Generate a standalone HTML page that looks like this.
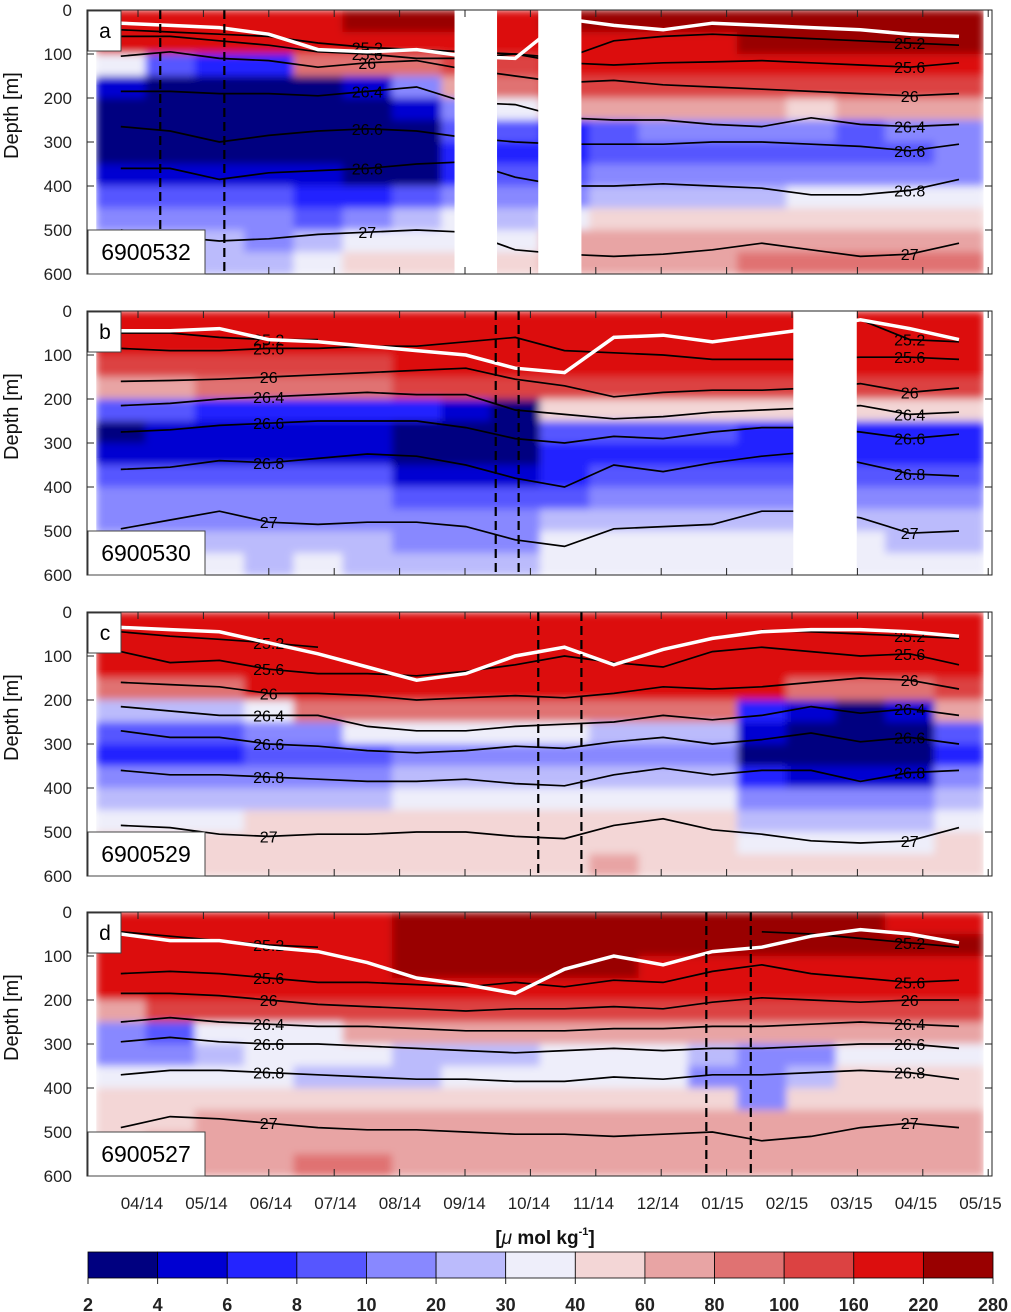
<!DOCTYPE html>
<html><head><meta charset="utf-8">
<style>
body{margin:0;background:#fff;}
svg{display:block;font-family:"Liberation Sans",sans-serif;}
</style></head>
<body>
<svg id="fig" width="1011" height="1312" viewBox="0 0 1011 1312" xmlns="http://www.w3.org/2000/svg">
<defs><filter id="soft" x="0" y="0" width="1" height="1"><feGaussianBlur stdDeviation="4" edgeMode="duplicate"/></filter></defs>
</svg>
<script>
// ---------- data ----------
const monthLabels=["04/14","05/14","06/14","07/14","08/14","09/14","10/14","11/14","12/14","01/15","02/15","03/15","04/15","05/15"];
const depthTicks=[0,100,200,300,400,500,600];
const cbLabels=["2","4","6","8","10","20","30","40","60","80","100","160","220","280"];
const palette=["#000080","#0000d2","#2424ff","#5656ff","#8888ff","#bbbbfc","#eeeefa","#f3d6d6","#e8a4a4","#e07272","#dc4242","#dc0e0e","#990000"];
const densLevels=["25.2","25.6","26","26.4","26.6","26.8","27"];
const panelLetters=["a","b","c","d"];
const floatIds=["6900532","6900530","6900529","6900527"];
const tStart=-0.64, tEnd=12.93;
const gridA=[
[11,11,11,11,11,12,12,12,11,12,12,12,12,12,12,12,12,12],
[11,11,11,11,11,11,11,11,11,11,11,11,11,12,12,12,12,12],
[6,3,2,2,9,9,9,10,10,11,11,11,11,11,11,11,11,11],
[1,0,0,0,0,1,4,8,9,10,10,10,10,10,10,10,10,10],
[0,0,0,0,0,0,1,4,6,8,8,8,8,8,7,8,8,8],
[0,0,0,0,0,0,0,3,3,2,3,4,4,4,4,3,4,4],
[0,0,0,0,0,0,0,2,2,2,3,3,3,3,3,3,3,4],
[1,1,1,1,1,0,0,2,3,3,4,4,4,4,4,4,4,4],
[3,3,3,3,2,2,3,4,4,4,5,5,5,5,6,6,6,6],
[4,4,4,4,3,4,5,6,5,6,7,7,7,7,7,7,7,7],
[5,5,5,4,5,6,6,6,6,8,8,8,8,8,8,8,8,8],
[5,5,5,5,6,7,7,7,7,8,8,8,8,9,9,9,9,9]];
const gridB=[
[11,11,11,11,11,11,11,11,11,11,11,11,11,11,11,11,11,11],
[11,11,11,11,11,11,11,11,11,11,11,11,11,11,11,11,11,11],
[10,10,10,10,10,10,11,11,11,11,11,11,11,11,11,11,11,11],
[8,8,9,9,9,9,10,10,10,10,10,10,10,10,10,10,10,10],
[3,3,2,2,2,2,2,1,0,7,7,7,7,7,7,7,7,7],
[0,1,1,1,1,1,0,0,0,3,3,3,3,2,2,2,2,2],
[1,1,1,1,1,1,0,0,0,2,2,2,2,2,2,2,2,2],
[3,3,3,3,3,3,1,1,1,2,3,3,3,3,3,3,3,3],
[4,4,4,4,4,4,3,3,3,3,4,4,4,4,4,4,4,4],
[4,4,4,4,4,4,4,4,4,5,5,5,5,5,5,5,5,5],
[5,5,5,5,5,5,4,4,4,6,6,6,6,6,6,6,5,5],
[5,5,6,5,6,5,5,5,5,6,6,6,6,6,6,6,6,6]];
const gridC=[
[11,11,11,11,11,11,11,11,11,11,11,11,11,11,11,11,11,11],
[11,11,11,11,11,11,11,11,11,11,11,11,11,11,11,11,11,11],
[11,11,11,11,11,11,11,11,11,11,11,11,11,11,11,11,11,11],
[9,9,9,11,11,11,11,11,11,11,11,11,11,11,9,9,9,10],
[5,5,5,6,9,9,9,9,9,9,9,9,9,2,1,0,1,8],
[3,3,3,4,4,6,6,6,6,6,5,5,5,1,0,0,0,3],
[2,2,2,3,3,3,4,4,4,4,4,4,4,0,0,0,0,2],
[4,4,4,4,4,4,5,5,5,5,5,5,5,2,1,1,1,4],
[5,5,5,5,5,5,6,6,6,6,6,6,6,4,4,4,4,5],
[6,6,6,7,7,7,7,7,7,7,7,7,7,5,5,5,5,6],
[7,7,7,7,7,7,7,7,7,7,7,7,7,6,6,6,6,7],
[7,7,7,7,7,7,7,7,7,7,8,7,7,7,7,7,7,7]];
const gridD=[
[11,11,11,11,11,11,12,12,12,12,12,12,12,12,12,12,11,11],
[11,11,11,11,11,11,12,12,12,12,12,12,12,12,12,12,12,12],
[11,11,11,11,11,11,12,12,12,12,12,11,11,11,11,11,11,11],
[11,11,11,11,11,11,11,11,11,11,11,11,11,11,11,11,11,11],
[8,10,10,10,10,10,10,10,10,10,10,10,10,10,10,10,10,10],
[4,3,6,6,6,8,8,8,8,8,8,8,8,8,8,8,8,8],
[4,4,5,6,6,6,5,5,5,6,6,6,5,4,4,6,6,6],
[6,6,6,6,5,5,5,6,6,6,6,6,4,4,5,7,7,7],
[7,7,7,7,7,7,7,7,7,7,7,7,7,4,7,7,7,7],
[7,7,8,8,8,8,8,8,8,8,8,8,8,8,8,8,8,8],
[7,8,8,8,8,8,8,8,8,8,8,8,8,8,8,8,8,8],
[8,8,8,8,9,9,8,8,8,8,8,8,8,8,8,8,8,8]];
const densA=[
[45,50,55,60,75,85,90,95,100,110,70,60,55,60,65,70,75,80],
[60,60,70,80,95,100,110,110,100,120,125,120,118,115,120,125,130,120],
[105,95,110,115,130,120,115,135,150,165,160,170,175,180,185,190,195,190],
[185,185,190,190,195,185,175,210,215,245,250,250,260,265,245,260,265,260],
[265,275,300,285,275,270,275,290,300,305,305,305,300,300,305,310,320,305],
[360,360,385,370,365,360,350,345,380,400,400,395,400,405,420,420,410,385],
[500,515,525,520,510,505,500,505,545,555,560,555,545,530,545,560,555,530]];
const densB=[
[50,50,60,65,65,null,null,null,null,null,null,null,null,null,30,20,65,70],
[85,90,90,85,85,80,80,70,60,90,95,100,110,110,110,105,105,110],
[160,158,155,150,145,140,135,130,155,170,195,185,180,180,175,165,185,175],
[215,210,200,195,190,185,190,190,225,235,245,240,230,225,220,215,235,230],
[275,270,260,255,250,250,250,265,290,300,285,290,275,265,265,275,290,280],
[360,355,340,345,335,325,330,350,380,400,350,365,345,330,320,345,370,375],
[495,475,455,480,485,480,480,490,520,535,495,490,485,455,455,470,505,500]];
const densC=[
[45,55,62,70,80,null,null,null,null,null,null,null,null,42,45,50,55,60],
[90,115,110,130,140,140,145,135,120,100,115,125,90,80,90,100,95,120],
[160,165,170,185,185,190,200,195,190,195,185,170,175,170,160,150,155,175],
[215,225,235,235,235,260,270,270,260,255,250,235,245,235,215,230,220,235],
[270,285,285,300,305,315,320,315,305,310,295,285,300,290,275,295,285,300],
[360,370,370,375,380,385,385,380,390,395,370,355,370,360,360,385,365,360],
[485,490,505,510,505,505,500,500,510,515,485,470,495,505,520,525,520,490]];
const densD=[
[45,55,65,75,80,null,null,null,null,null,null,null,null,45,50,60,70,80],
[140,135,140,150,160,160,165,170,160,170,155,160,135,120,140,150,160,155],
[185,185,190,200,210,215,220,225,220,220,215,220,205,195,200,205,200,200],
[250,240,250,255,260,260,265,270,270,270,265,265,260,260,255,250,255,260],
[295,285,295,300,300,305,310,315,320,315,310,315,310,310,305,300,300,310],
[370,360,360,365,370,375,380,380,385,385,375,380,370,370,365,360,365,380],
[490,465,470,480,490,495,495,500,505,505,510,505,500,520,510,490,480,490]];
const mldA=[30,35,40,55,90,95,90,105,110,20,35,45,30,35,40,45,55,60];
const mldB=[45,45,40,65,70,80,90,100,130,140,60,55,70,55,40,20,40,65];
const mldC=[35,40,45,70,95,125,155,140,100,80,120,85,60,45,40,40,45,55];
const mldD=[50,65,65,80,90,115,150,165,185,130,100,120,90,80,55,40,50,70];
const gapsA=[[4.84,5.49],[6.12,6.78]];
const gapsB=[[10.02,10.99]];
const gapsC=[];
const gapsD=[];
const dashA=[0.34,1.32];
const dashB=[5.47,5.82];
const dashC=[6.12,6.78];
const dashD=[8.69,9.37];
// ---------- drawing ----------
const NS="http://www.w3.org/2000/svg";
const svg=document.getElementById('fig');
function mk(tag,attrs,parent){const e=document.createElementNS(NS,tag);for(const k in attrs)e.setAttribute(k,attrs[k]);(parent||svg).appendChild(e);return e;}
const AX_L=87, AX_R=992;
const X0=138, XM=65.4;
function xOf(m){return X0+XM*m;}
const panelTops=[10,311,612,912];
const PH=264;
const grids=[gridA,gridB,gridC,gridD];
const dens=[densA,densB,densC,densD];
const mlds=[mldA,mldB,mldC,mldD];
const gaps=[gapsA,gapsB,gapsC,gapsD];
const dashes=[dashA,dashB,dashC,dashD];
const labelCol=[5,3,3,3];
const NC=18;
function colT(i){return tStart+(tEnd-tStart)*i/NC;}
function colCenterT(i){return tStart+(tEnd-tStart)*(i+0.5)/NC;}
const defs=svg.querySelector('defs');

for(let p=0;p<4;p++){
  const top=panelTops[p];
  const yOf=d=>top+d/600*PH;
  const g=mk('g',{});
  
  
  const cp=mk('clipPath',{id:'clip'+p},defs);
  mk('rect',{x:xOf(tStart),y:top,width:xOf(tEnd)-xOf(tStart),height:PH},cp);
  const outer=mk('g',{'clip-path':'url(#clip'+p+')'},g);
  const cells=mk('g',{filter:'url(#soft)'},outer);
  const grid=grids[p];
  for(let r=0;r<grid.length;r++){
    for(let c=0;c<NC;c++){
      const x1=xOf(colT(c)), x2=xOf(colT(c+1));
      const rc=mk('rect',{x:x1.toFixed(1),y:yOf(r*50).toFixed(1),width:(x2-x1+0.6).toFixed(1),height:(PH/12+0.6).toFixed(1),fill:palette[grid[r][c]]},cells);
      
      
    }
  }
  dens[p].forEach((lev,li)=>{
    let d='',pen=false;
    lev.forEach((v,c)=>{
      if(v===null){pen=false;return;}
      d+=(pen?'L':'M')+xOf(colCenterT(c)).toFixed(1)+','+yOf(v).toFixed(1);
      pen=true;
    });
    const pl=mk('path',{d:d,fill:'none',stroke:'#000','stroke-width':1.7},g);
    
    
    [labelCol[p],16].forEach(c=>{
      const v=lev[c]; if(v===null) return;
      const t=mk('text',{x:xOf(colCenterT(c)).toFixed(1),y:(yOf(v)+6).toFixed(1),'font-size':16,'text-anchor':'middle',fill:'#000'},g);
      t.textContent=densLevels[li];
      
      
    });
  });
  let md='';
  mlds[p].forEach((v,c)=>{md+=(c?'L':'M')+xOf(colCenterT(c)).toFixed(1)+','+yOf(v).toFixed(1);});
  const ml=mk('path',{d:md,fill:'none',stroke:'#fff','stroke-width':3.5},g);
  
  
  const ls=mk('rect',{x:AX_L,y:top,width:xOf(tStart)-AX_L,height:PH,fill:'#fff'},g);
  
  
  const rs=mk('rect',{x:xOf(tEnd),y:top,width:AX_R-xOf(tEnd),height:PH,fill:'#fff'},g);
  
  
  gaps[p].forEach(gp=>{
    const gr=mk('rect',{x:xOf(gp[0]),y:top,width:xOf(gp[1])-xOf(gp[0]),height:PH,fill:'#fff'},g);
    
    
  });
  dashes[p].forEach(m=>{
    const dl=mk('line',{x1:xOf(m),x2:xOf(m),y1:top,y2:top+PH,stroke:'#000','stroke-width':2.2,'stroke-dasharray':'9,5'},g);
    
    
  });
  const fr=mk('rect',{x:AX_L,y:top,width:AX_R-AX_L,height:PH,fill:'none',stroke:'#222','stroke-width':1},g);
  
  
  monthLabels.forEach((lb,i)=>{
    const x=xOf(i);
    mk('line',{x1:x,x2:x,y1:top,y2:top+7,stroke:'#222'},g);
    mk('line',{x1:x,x2:x,y1:top+PH,y2:top+PH-7,stroke:'#222'},g);
  });
  depthTicks.forEach(d=>{
    mk('line',{x1:AX_L,x2:AX_L+7,y1:yOf(d),y2:yOf(d),stroke:'#222'},g);
    mk('line',{x1:AX_R,x2:AX_R-7,y1:yOf(d),y2:yOf(d),stroke:'#222'},g);
    const t=mk('text',{x:72,y:yOf(d)+6,'font-size':17,'text-anchor':'end',fill:'#222'},g);
    t.textContent=d;
    
    
  });
  const yt=mk('text',{x:0,y:0,'font-size':20,'text-anchor':'middle',fill:'#111',transform:'translate(18,'+(top+PH*0.4)+') rotate(-90)'},g);
  yt.textContent='Depth [m]';
  
  
  const lb=mk('rect',{x:88,y:top+1,width:33,height:40,fill:'#fff',stroke:'#444'},g);
  
  
  const lt=mk('text',{x:105,y:top+28,'font-size':21,'text-anchor':'middle',fill:'#000'},g);
  lt.textContent=panelLetters[p];
  
  
  const ib=mk('rect',{x:88,y:top+PH-44,width:117,height:44,fill:'#fff',stroke:'#444'},g);
  
  
  const it=mk('text',{x:146,y:top+PH-14,'font-size':23,'text-anchor':'middle',fill:'#000'},g);
  it.textContent=floatIds[p];
  
  
}
monthLabels.forEach((lb,i)=>{
  const t=mk('text',{x:142+64.5*i,y:1209,'font-size':17,'text-anchor':'middle',fill:'#222'});
  t.textContent=lb;
  
  
});
const ut=mk('text',{x:545,y:1244,'font-size':19,'font-weight':'bold','text-anchor':'middle',fill:'#111'});
ut.innerHTML='[<tspan font-style="italic" font-weight="normal">μ</tspan> mol kg<tspan font-size="11" dy="-9">-1</tspan><tspan dy="9">]</tspan>';


const CB_L=88, CB_R=993, CB_T=1252, CB_H=26;
const bw=(CB_R-CB_L)/palette.length;
palette.forEach((col,i)=>{
  const r=mk('rect',{x:CB_L+i*bw,y:CB_T,width:bw,height:CB_H,fill:col,stroke:'#000','stroke-width':0.8});
  
  
});
cbLabels.forEach((lb,i)=>{
  const x=CB_L+i*bw;
  const t=mk('text',{x:x,y:1311,'font-size':18,'font-weight':'bold','text-anchor':'middle',fill:'#222'});
  t.textContent=lb;
  
  
  mk('line',{x1:x,x2:x,y1:CB_T+CB_H,y2:CB_T+CB_H+6,stroke:'#222'});
});
</script>
</body></html>
